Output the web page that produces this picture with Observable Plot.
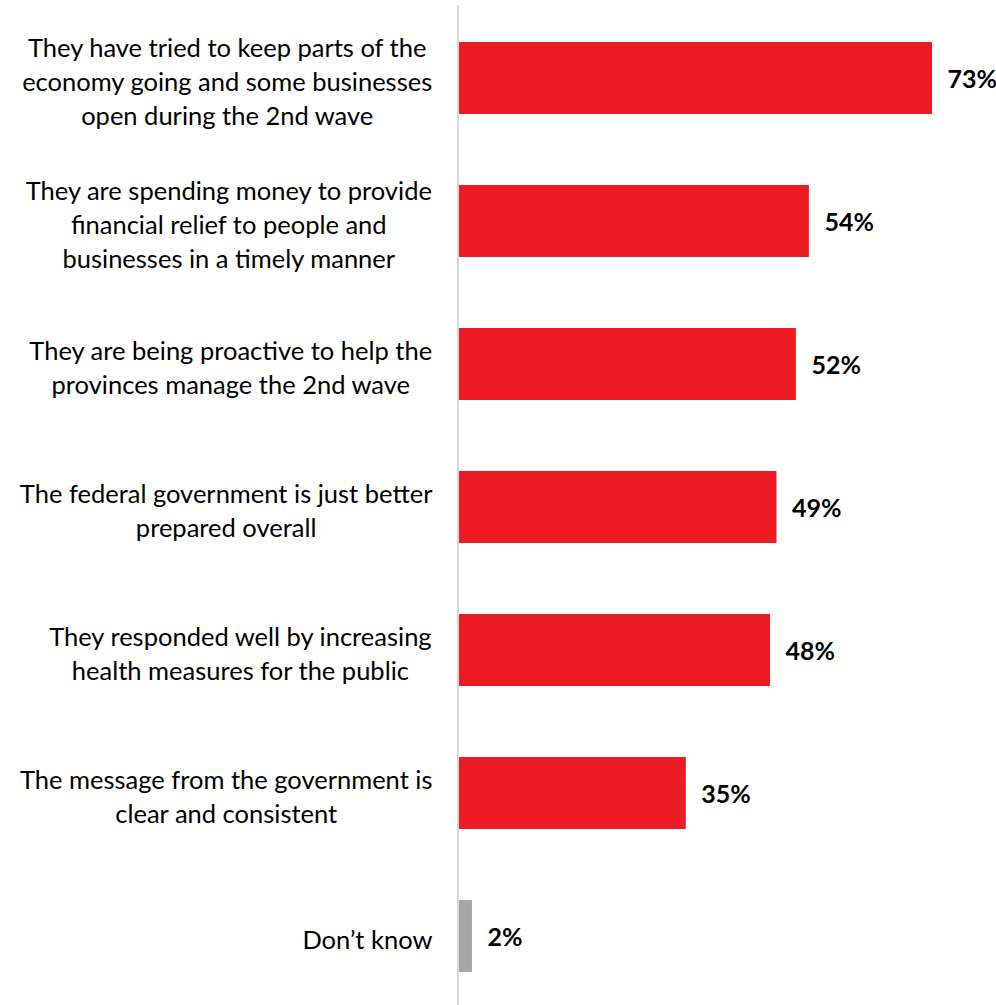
<!DOCTYPE html>
<html>
<head>
<meta charset="utf-8">
<script src="https://cdn.jsdelivr.net/npm/d3@7"></script>
<script src="https://cdn.jsdelivr.net/npm/@observablehq/plot@0.6"></script>
<style>
  html, body { margin: 0; padding: 0; background: #fff; }
  #chart { width: 996px; height: 1005px; }
</style>
</head>
<body>
<div id="chart"></div>
<script>
const categories = [
  "They have tried to keep parts of the\neconomy going and some businesses\nopen during the 2nd wave",
  "They are spending money to provide\nfinancial relief to people and\nbusinesses in a timely manner",
  "They are being proactive to help the\nprovinces manage the 2nd wave",
  "The federal government is just better\nprepared overall",
  "They responded well by increasing\nhealth measures for the public",
  "The message from the government is\nclear and consistent",
  "Don’t know"
];
const values = [73, 54, 52, 49, 48, 35, 2];
const kinds = ["reason", "reason", "reason", "reason", "reason", "reason", "dk"];

const data = categories.map((c, i) => ({category: c, value: values[i], kind: kinds[i]}));

const labelFont = "Lato, 'Open Sans', sans-serif";
const labelSize = 25.5;
const gap = 27;

// measure each label block to right-align the block while centring its lines
const ctx = document.createElement("canvas").getContext("2d");
ctx.font = `${labelSize}px ${labelFont}`;
const blockWidth = c => Math.max(...c.split("\n").map(l => ctx.measureText(l).width));

const chart = Plot.plot({
  width: 996,
  height: 1005,
  marginLeft: 459,
  marginRight: 64,
  marginTop: 12,
  marginBottom: 4,
  x: {domain: [0, 73], axis: null},
  y: {domain: categories, axis: null, paddingInner: 0.5, paddingOuter: 0.2},
  color: {domain: ["reason", "dk"], range: ["#ED1C24", "#A6A6A6"]},
  style: {fontFamily: labelFont, background: "#fff"},
  marks: [
    Plot.barX(data, {x: "value", y: "category", fill: "kind"}),
    Plot.ruleX([0], {stroke: "#d9d9d9", strokeWidth: 2, dx: -1.5, insetTop: -7, insetBottom: -4}),
    ...data.map(d => Plot.text([d], {
      x: 0, y: "category", text: "category",
      textAnchor: "middle", lineAnchor: "middle", lineHeight: 34 / labelSize,
      dx: -(gap + blockWidth(d.category) / 2), dy: 2,
      fontSize: labelSize, fill: "#000"
    })),
    Plot.text(data, {
      x: "value", y: "category", text: d => d.value + "%",
      textAnchor: "start", dx: 15, dy: 1, fontSize: 25, fontWeight: "bold", fill: "#000"
    })
  ]
});
document.getElementById("chart").appendChild(chart);
</script>
</body>
</html>
